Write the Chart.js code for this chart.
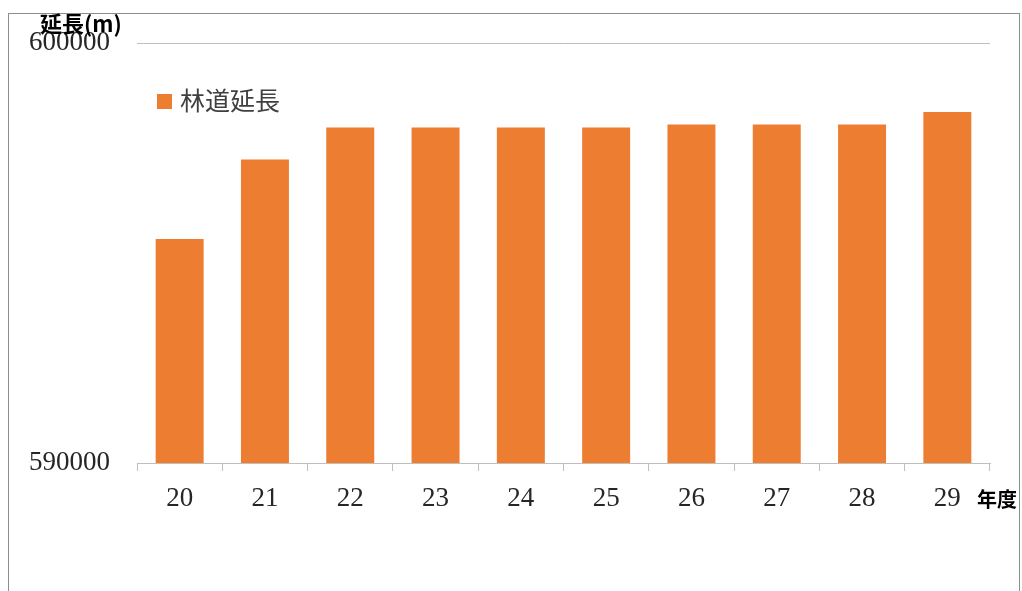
<!DOCTYPE html>
<html>
<head>
<meta charset="utf-8">
<script src="https://cdn.jsdelivr.net/npm/chart.js@4.4.0/dist/chart.umd.min.js"></script>
<style>
  body { margin: 0; background: #fff; }
  #wrap { position: relative; width: 1022px; height: 591px; overflow: hidden; }
  #frame { position: absolute; left: 8px; top: 13px; width: 1010px; height: 620px; border: 1px solid #8c8c8c; }
  canvas { position: absolute; left: 0; top: 0; }
  .lbl { position: absolute; font-family: "Noto Sans CJK JP", sans-serif; color: #000; font-weight: bold; white-space: nowrap; }
  #legend { position: absolute; left: 157px; top: 81px; font-family: "Noto Sans CJK JP", sans-serif; font-size: 25px; color: #404040; white-space: nowrap; }
  #legend span.box { display: inline-block; width: 15px; height: 15px; background: #ED7D31; margin-right: 8px; vertical-align: 1px; }
</style>
</head>
<body>
<div id="wrap">
  <div id="frame"></div>
  <canvas id="myChart" width="1022" height="591"></canvas>
  <div class="lbl" id="ytitle" style="left:40px; top:6px; font-size:22px;">延長(m)</div>
  <div class="lbl" id="xtitle" style="left:977px; top:484px; font-size:20px;">年度</div>
  <div id="legend"><span class="box"></span><span id="legendText"></span></div>
</div>
<script>
var years = ["20", "21", "22", "23", "24", "25", "26", "27", "28", "29"];
var lengths = [595333, 597231, 597993, 597993, 597993, 597993, 598064, 598064, 598064, 598364];
var seriesName = "林道延長";
var yTicks = [590000, 600000];

document.getElementById("legendText").textContent = seriesName;

const ctx = document.getElementById("myChart").getContext("2d");
const myChart = new Chart(ctx, {
  type: "bar",
  data: {
    labels: years,
    datasets: [
      {
        label: seriesName,
        data: lengths,
        backgroundColor: "#ED7D31",
        borderWidth: 0,
        categoryPercentage: 1,
        barPercentage: 0.5625,
      },
    ],
  },
  options: {
    responsive: false,
    animation: false,
    layout: {
      padding: { left: 0, right: 32, top: 43, bottom: 0 },
    },
    plugins: {
      legend: false,
      tooltip: { enabled: false },
    },
    scales: {
      x: {
        grid: {
          drawOnChartArea: false,
          drawTicks: true,
          tickLength: 8,
          color: "#bfbfbf",
        },
        border: { display: true, color: "#bfbfbf", width: 1 },
        ticks: {
          color: "#262626",
          padding: 12,
          font: { family: "Liberation Serif", size: 27 },
        },
        afterFit: (scale) => {
          scale.height = 128;
        },
      },
      y: {
        min: yTicks[0],
        max: yTicks[1],
        afterBuildTicks: (scale) => {
          scale.ticks = yTicks.map((v) => ({ value: v }));
        },
        grid: {
          drawTicks: false,
          color: "#bfbfbf",
        },
        border: { display: false },
        ticks: {
          color: "#262626",
          padding: 27,
          font: { family: "Liberation Serif", size: 27 },
          callback: (value) => String(value),
        },
        afterFit: (scale) => {
          scale.width = 137;
        },
      },
    },
  },
});
</script>
</body>
</html>
